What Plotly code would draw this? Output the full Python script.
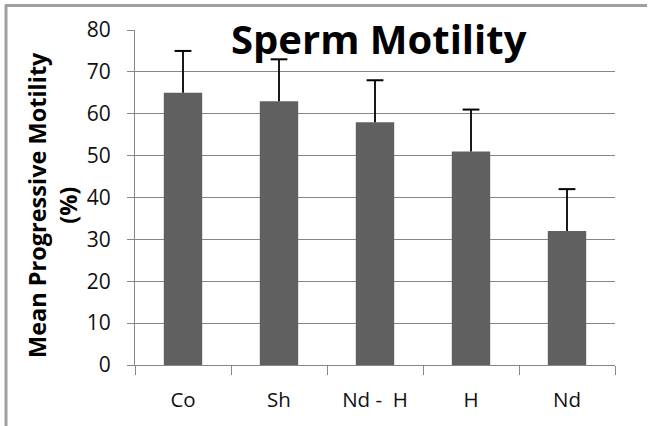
import plotly.graph_objects as go

categories = ["Co", "Sh", "Nd -  H", "H", "Nd"]
motility = [65, 63, 58, 51, 32]
error_plus = [10, 10, 10, 10, 10]
y_ticks = [0, 10, 20, 30, 40, 50, 60, 70, 80]

W, H = 648, 426
L, R, T, B = 135, 33, 30, 61
pw, ph = W - L - R, H - T - B

def px_x(p):
    return (p - L) / pw

def px_y(p):
    return (T + ph - p) / ph

fig = go.Figure()
fig.add_trace(go.Bar(
    x=categories, y=motility, width=0.4,
    marker=dict(color="#606060", line=dict(width=0)),
))

# upward-only error bars (no cap at the bar top)
ex, ey = [], []
for c, v, e in zip(categories, motility, error_plus):
    ex += [c, c, None]
    ey += [v, v + e, None]
fig.add_trace(go.Scatter(x=ex, y=ey, mode="lines",
                         line=dict(color="black", width=1.8),
                         hoverinfo="skip"))
fig.add_trace(go.Scatter(
    x=categories, y=[v + e for v, e in zip(motility, error_plus)],
    mode="markers",
    marker=dict(symbol="line-ew-open", size=12, color="black",
                line=dict(color="black", width=2)),
    hoverinfo="skip"))

grid = "#878787"
FONT = "Open Sans"
fig.update_layout(
    width=W, height=H,
    margin=dict(l=L, r=R, t=T, b=B),
    paper_bgcolor="white", plot_bgcolor="white",
    showlegend=False,
    font=dict(family=FONT, color="black"),
    xaxis=dict(
        type="category", showline=True, linecolor=grid, linewidth=1,
        ticks="outside", tickson="boundaries", ticklen=9, tickcolor=grid,
        tickfont=dict(size=20.5, family=FONT, color="#111"),
        ticklabelstandoff=16,
        showgrid=False, range=[-0.5, 4.5],
    ),
    yaxis=dict(
        range=[0, 80], tickvals=y_ticks, showline=True, linecolor=grid,
        linewidth=1, ticks="outside", ticklen=7, tickcolor=grid,
        showgrid=True, gridcolor=grid, gridwidth=1,
        tickfont=dict(size=21, family=FONT, color="#111"),
        ticklabelstandoff=12, zeroline=False,
    ),
)

fig.add_annotation(
    text="<b>Mean Progressive Motility<br>(%)</b>", xref="paper", yref="paper",
    x=px_x(53), y=px_y(205), xanchor="center", yanchor="middle",
    textangle=-90, showarrow=False,
    font=dict(size=23.5, family=FONT, color="black"),
)

fig.add_annotation(
    text="<b>Sperm Motility</b>", xref="paper", yref="paper",
    x=px_x(379), y=px_y(38.5), xanchor="center", yanchor="middle",
    showarrow=False, font=dict(size=40, family=FONT, color="black"),
)

# outer chart-area border (left and top edges visible)
border = dict(color="#a0a0a0", width=3)
fig.add_shape(type="line", xref="paper", yref="paper",
              x0=px_x(5), x1=px_x(W - 1), y0=px_y(5.5), y1=px_y(5.5),
              line=border, layer="above")
fig.add_shape(type="line", xref="paper", yref="paper",
              x0=px_x(6), x1=px_x(6), y0=px_y(5), y1=px_y(H),
              line=border, layer="above")

fig.write_html("out.html", config={"displayModeBar": False},
               post_script="document.body.style.margin='0';document.body.style.overflow='hidden';")
